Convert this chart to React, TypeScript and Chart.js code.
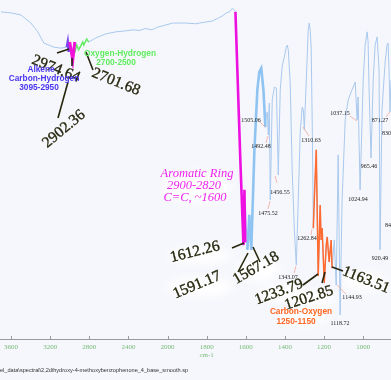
import React, { useEffect, useRef } from 'react';
import { Chart, LinearScale, registerables } from 'chart.js';

// ---------- data ----------
const xTicks = [3600, 3200, 2800, 2400, 2000, 1800, 1600, 1400, 1200, 1000];

// main spectrum (wavenumber cm-1, %T)
const spectrumWn = [3703, 3601, 3499, 3397, 3326, 3265, 3163, 3091, 3030, 3020, 3010, 3000, 2969, 2950, 2928, 2908, 2867, 2857, 2826, 2806, 2734, 2632, 2530, 2428, 2347, 2290, 2224, 2160, 2102, 2020, 1975, 1908, 1857, 1806, 1771, 1740, 1720, 1699, 1684, 1668, 1653, 1628, 1612, 1602, 1592, 1582, 1572, 1556, 1541, 1531, 1521, 1510, 1500, 1495, 1490, 1485, 1480, 1475, 1465, 1454, 1444, 1439, 1434, 1424, 1414, 1403, 1393, 1388, 1383, 1373, 1363, 1352, 1342, 1332, 1322, 1312, 1306, 1301, 1291, 1281, 1276, 1271, 1266, 1261, 1255, 1250, 1240, 1230, 1220, 1215, 1210, 1199, 1189, 1184, 1174, 1164, 1159, 1148, 1138, 1128, 1118, 1108, 1092, 1077, 1057, 1041, 1031, 1026, 1016, 1000, 990, 980, 975, 970, 960, 949, 939, 929, 919, 914, 904, 888, 878, 873, 868, 863, 858];
const spectrumT = [96.5, 96.2, 95.6, 93.2, 90.6, 87.3, 86.1, 85.8, 86.1, 87.6, 84.7, 87.6, 82.3, 84.4, 86.7, 85.3, 87.6, 86.7, 88.5, 87.6, 88.8, 90.0, 90.6, 90.9, 91.2, 91.0, 91.6, 91.2, 92.0, 92.6, 93.2, 93.2, 93.0, 93.5, 93.8, 94.7, 95.3, 96.2, 96.5, 97.6, 96.5, 52.8, 27.7, 39.5, 26.3, 36.6, 26.3, 55.8, 73.5, 78.8, 79.9, 73.5, 62.5, 66.1, 67.0, 60.2, 69.6, 41.0, 70.5, 74.3, 74.0, 61.7, 48.4, 73.5, 80.5, 83.2, 86.1, 86.7, 85.3, 75.5, 49.9, 32.2, 21.8, 41.0, 60.8, 68.4, 67.6, 61.7, 76.4, 91.2, 93.2, 91.2, 86.1, 65.5, 32.7, 41.0, 55.8, 18.6, 39.5, 29.2, 32.7, 16.5, 27.7, 30.1, 22.7, 29.2, 20.9, 29.2, 15.9, 54.3, 7.1, 41.0, 64.6, 70.5, 73.5, 75.8, 64.6, 71.4, 44.0, 76.4, 86.7, 90.6, 87.6, 73.5, 53.4, 76.4, 86.7, 89.1, 79.4, 26.3, 67.6, 81.7, 86.7, 87.3, 79.4, 67.0, 76.4];

// highlighted bands
const chWn = [3030, 3020, 3010, 3000];
const chT = [86.1, 87.6, 84.7, 87.6];
const alkeneWn = [3000, 2969, 2948];
const alkeneT = [87.6, 82.3, 87.6];
const ohWn = [2950, 2928, 2908, 2867, 2857, 2826, 2806];
const ohT = [84.4, 86.7, 85.3, 87.6, 86.7, 88.5, 87.6];
const aromaticWn = [1653, 1628, 1612, 1607, 1603];
const aromaticT = [96.5, 52.8, 27.7, 44.0, 28.5];
const boldBlueWn = [1592, 1582, 1572, 1556, 1541, 1531, 1521, 1510, 1500];
const boldBlueT = [26.3, 36.6, 26.3, 55.8, 73.5, 78.8, 79.9, 73.5, 62.5];
const coWn = [1255, 1250, 1240, 1230, 1220, 1215, 1210, 1199, 1189, 1184, 1174, 1164, 1159];
const coT = [32.7, 41.0, 55.8, 18.6, 39.5, 29.2, 32.7, 16.5, 27.7, 30.1, 22.7, 29.2, 20.9];

// ---------- axis with scale change at 2000 cm-1 ----------
const BREAK = 2000;
const warp = (v: number) => (v <= BREAK ? BREAK - v : -(v - BREAK) / 2);
const unwarp = (t: number) => (t >= 0 ? BREAK - t : BREAK - 2 * t);

class IrScale extends LinearScale {
  static id = 'irWavenumber';
  static defaults = LinearScale.defaults;
  buildTicks() {
    return xTicks.map((v) => ({ value: v }));
  }
  getPixelForValue(value: number) {
    const t0 = warp(this.max);
    const t1 = warp(this.min);
    return this.getPixelForDecimal((warp(value) - t0) / (t1 - t0));
  }
  getValueForPixel(pixel: number) {
    const t0 = warp(this.max);
    const t1 = warp(this.min);
    return unwarp(t0 + this.getDecimalForPixel(pixel) * (t1 - t0));
  }
}

Chart.register(...registerables, IrScale);

const pts = (wn: number[], t: number[]) => wn.map((w, i) => ({ x: w, y: t[i] }));

const SERIF = '"Liberation Serif", "DejaVu Serif", serif';
const SANS = '"Liberation Sans", Arial, sans-serif';

const bigLabels = [
  { t: '2974.64', x: 56, y: 69, r: 22 },
  { t: '2902.36', x: 64, y: 129, r: -40 },
  { t: '2701.68', x: 116, y: 82, r: 22 },
  { t: '1612.26', x: 195, y: 252, r: -14 },
  { t: '1591.17', x: 197, y: 285, r: -23 },
  { t: '1567.18', x: 256, y: 268, r: -30 },
  { t: '1233.79', x: 279, y: 292, r: -20 },
  { t: '1202.85', x: 309, y: 298, r: -18 },
  { t: '1163.51', x: 366, y: 280, r: 22 },
];

const leaders = [
  [57, 53, 69, 49],
  [72, 58, 72, 66],
  [68, 82, 58, 118],
  [86, 52, 93, 70],
  [232, 248, 244, 243],
  [238, 272, 248, 253],
  [253, 247, 260, 262],
  [303, 285, 318, 274],
  [322, 283, 325, 272],
  [332, 267, 343, 271],
];

const smallLabels = [
  { t: '1505.06', x: 251, y: 120, a: 'center' },
  { t: '1492.48', x: 261, y: 146, a: 'center' },
  { t: '1456.55', x: 280, y: 192, a: 'center' },
  { t: '1475.52', x: 268, y: 213, a: 'center' },
  { t: '1310.63', x: 311, y: 140, a: 'center' },
  { t: '1037.15', x: 340, y: 113, a: 'center' },
  { t: '871.27', x: 380, y: 120, a: 'center' },
  { t: '830.92', x: 382, y: 133, a: 'left' },
  { t: '965.46', x: 369, y: 166, a: 'center' },
  { t: '1024.94', x: 358, y: 199, a: 'center' },
  { t: '846.33', x: 385, y: 225, a: 'left' },
  { t: '1262.84', x: 307, y: 238, a: 'center' },
  { t: '1343.07', x: 288, y: 277, a: 'center' },
  { t: '920.49', x: 380, y: 258, a: 'center' },
  { t: '1144.93', x: 352, y: 297, a: 'center' },
  { t: '1118.72', x: 340, y: 323, a: 'center' },
];

const pinkLeaders = [
  [259, 121, 265, 127],
  [266, 143, 268, 136],
  [277, 183, 275, 176],
  [268, 209, 270, 201],
  [303, 127, 309, 136],
  [350, 116, 357, 121],
  [337, 285, 346, 294],
  [386, 117, 390, 112],
  [311, 235, 312, 229],
  [294, 273, 296, 266],
];

const groupLabels = [
  { t: 'Alkene', x: 41, y: 70, c: '#4b36ee' },
  { t: 'Carbon-Hydrogen', x: 44, y: 79, c: '#4b36ee' },
  { t: '3095-2950', x: 39, y: 88, c: '#4b36ee' },
  { t: 'Oxygen-Hydrogen', x: 120, y: 54, c: '#5fec5f' },
  { t: '2700-2500', x: 116, y: 63, c: '#5fec5f' },
  { t: 'Carbon-Oxygen', x: 301, y: 312, c: '#ff6622' },
  { t: '1250-1150', x: 296, y: 322, c: '#ff6622' },
];

const aromaticLabels = [
  { t: 'Aromatic Ring', x: 197, y: 174 },
  { t: '2900-2820', x: 194, y: 186 },
  { t: 'C=C, ~1600', x: 195, y: 198 },
];

const blobs = [
  [197, 187, 34, 16],
  [200, 256, 32, 8],
  [200, 287, 34, 10],
  [258, 270, 22, 12],
  [281, 293, 22, 8],
  [312, 300, 24, 8],
  [364, 282, 22, 10],
  [302, 317, 26, 8],
];

const decorPlugin = {
  id: 'irDecor',
  beforeDraw(chart: any) {
    const ctx = chart.ctx;
    ctx.save();
    ctx.fillStyle = '#f6f7fc';
    ctx.fillRect(0, 0, chart.width, chart.height);
    ctx.restore();
  },
  beforeDatasetsDraw(chart: any) {
    const ctx = chart.ctx;
    ctx.save();
    ctx.filter = 'blur(4px)';
    ctx.fillStyle = 'rgba(255,255,255,0.9)';
    blobs.forEach(([x, y, rx, ry]) => {
      ctx.beginPath();
      ctx.ellipse(x, y, rx, ry, 0, 0, Math.PI * 2);
      ctx.fill();
    });
    ctx.restore();
  },
  afterDraw(chart: any) {
    const ctx = chart.ctx;
    const xs = chart.scales.x;
    const bottom = chart.chartArea.bottom;
    ctx.save();
    // inward tick marks
    ctx.strokeStyle = '#9a9a9a';
    ctx.lineWidth = 1;
    xTicks.forEach((v) => {
      const px = Math.round(xs.getPixelForValue(v)) + 0.5;
      ctx.beginPath();
      ctx.moveTo(px, bottom);
      ctx.lineTo(px, bottom - 3);
      ctx.stroke();
    });
    // unit + file name
    ctx.fillStyle = '#78bb78';
    ctx.font = `7px ${SERIF}`;
    ctx.textAlign = 'center';
    ctx.textBaseline = 'middle';
    ctx.fillText('cm-1', xs.getPixelForValue(1800), 355);
    ctx.fillStyle = '#333333';
    ctx.font = `5.6px ${SANS}`;
    ctx.textAlign = 'left';
    ctx.fillText('el_data\\spectral\\2,2dihydroxy-4-methoxybenzophenone_4_base_smooth.sp', 0, 370);

    // pink leaders + small peak labels
    ctx.strokeStyle = '#f2a898';
    ctx.lineWidth = 0.8;
    pinkLeaders.forEach(([a, b, c, d]) => {
      ctx.beginPath();
      ctx.moveTo(a, b);
      ctx.lineTo(c, d);
      ctx.stroke();
    });
    ctx.fillStyle = '#222222';
    ctx.font = `6px ${SERIF}`;
    smallLabels.forEach((l) => {
      ctx.textAlign = l.a;
      ctx.fillText(l.t, l.x, l.y);
    });

    // dark leaders
    ctx.strokeStyle = '#26260c';
    ctx.lineWidth = 1.6;
    leaders.forEach(([a, b, c, d]) => {
      ctx.beginPath();
      ctx.moveTo(a, b);
      ctx.lineTo(c, d);
      ctx.stroke();
    });

    // big peak labels
    ctx.fillStyle = '#26260c';
    ctx.strokeStyle = '#26260c';
    ctx.lineWidth = 0.35;
    ctx.font = `15.5px ${SERIF}`;
    ctx.textAlign = 'center';
    bigLabels.forEach((l) => {
      ctx.save();
      ctx.translate(l.x, l.y);
      ctx.rotate((l.r * Math.PI) / 180);
      ctx.fillText(l.t, 0, 0);
      ctx.strokeText(l.t, 0, 0);
      ctx.restore();
    });

    // group labels
    ctx.font = `bold 8.3px ${SANS}`;
    groupLabels.forEach((l) => {
      ctx.fillStyle = l.c;
      ctx.fillText(l.t, l.x, l.y);
    });
    ctx.fillStyle = '#ee22ee';
    ctx.font = `italic 12.5px ${SERIF}`;
    aromaticLabels.forEach((l) => ctx.fillText(l.t, l.x, l.y));
    ctx.restore();
  },
};

export default function App() {
  const ref = useRef<HTMLCanvasElement | null>(null);
  useEffect(() => {
    if (!ref.current) return;
    const line = (data: any, color: string, width: number, order: number) => ({
      data,
      borderColor: color,
      borderWidth: width,
      pointRadius: 0,
      tension: 0,
      fill: false,
      order,
    });
    const chart = new Chart(ref.current, {
      type: 'line',
      data: {
        datasets: [
          line(pts(spectrumWn, spectrumT), '#a9c9ee', 1, 10),
          line(pts(boldBlueWn, boldBlueT), '#8fc4f2', 2.6, 5),
          line(pts(coWn, coT), '#ff6a30', 1.5, 4),
          line(pts(ohWn, ohT), '#66ee66', 1.5, 3),
          line(pts(chWn, chT), '#7a45ea', 2.5, 2),
          line(pts(alkeneWn, alkeneT), '#f012d8', 3, 1),
          line(pts(aromaticWn, aromaticT), '#ee10e0', 2.6, 1),
        ],
      },
      options: {
        animation: false,
        responsive: false,
        devicePixelRatio: 1,
        parsing: true,
        layout: { padding: 0 },
        plugins: { legend: { display: false }, tooltip: { enabled: false } },
        scales: {
          x: {
            type: 'irWavenumber',
            min: 858,
            max: 3703,
            grid: { display: false, drawTicks: false },
            border: { display: true, color: '#9a9a9a', width: 1 },
            ticks: {
              autoSkip: false,
              maxRotation: 0,
              padding: 4,
              color: '#78bb78',
              font: { size: 7, family: SERIF },
              callback: (v: any) => String(v),
            },
            afterFit: (s: any) => {
              s.height = 41;
            },
          } as any,
          y: { display: false, min: 0, max: 100 },
        },
      },
      plugins: [decorPlugin],
    } as any);
    return () => chart.destroy();
  }, []);
  return (
    <div style={{ position: 'fixed', left: 0, top: 0, width: 391, height: 380 }}>
      <canvas ref={ref} width={391} height={380} style={{ display: 'block' }} />
    </div>
  );
}
